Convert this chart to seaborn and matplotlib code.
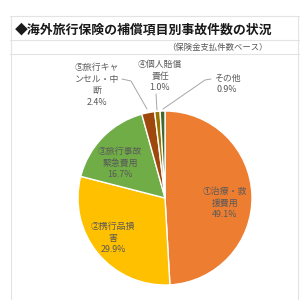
import matplotlib
matplotlib.use("Agg")
import matplotlib.pyplot as plt
import seaborn as sns
import numpy as np
from matplotlib.lines import Line2D

sns.set_theme(style="white")
plt.rcParams['font.family'] = ['Noto Sans CJK JP', 'DejaVu Sans']

# ---- data ----
categories = ["①治療・救\n援費用", "②携行品損\n害", "③旅行事故\n緊急費用",
              "⑤旅行キャ\nンセル・中\n断", "④個人賠償\n責任", "その他"]
values = [49.1, 29.9, 16.7, 2.4, 1.0, 0.9]
colors = ["#ED7D31", "#FFC000", "#70AD47", "#9E480E", "#997300", "#43682B"]
title = "◆海外旅行保険の補償項目別事故件数の状況"
subtitle = "（保険金支払件数ベース）"

fig = plt.figure(figsize=(3, 3), dpi=100)
fig.patch.set_facecolor("white")

# spreadsheet-like frame lines (figure pixel coords, top-down)
def hline(y, x0=10, x1=300):
    fig.add_artist(Line2D([x0/300, x1/300], [1 - y/300, 1 - y/300], color="#E3E3E3", lw=0.8))
def vline(x, y0=16, y1=300):
    fig.add_artist(Line2D([x/300, x/300], [1 - y0/300, 1 - y1/300], color="#E3E3E3", lw=0.8))
hline(16); hline(40); hline(54)
vline(11); vline(298)

fig.text(15/300, 1 - 29/300, title, fontsize=9.3, color="#1a1a1a", va="center", ha="left", weight="bold")
fig.text(268/300, 1 - 47/300, subtitle, fontsize=6, color="#555555", va="center", ha="right")

ax = fig.add_axes([78/300, 15/300, 174/300, 174/300])
wedges, _ = ax.pie(values, colors=colors, startangle=90, counterclock=False,
                   wedgeprops=dict(edgecolor="white", linewidth=1.0))
ax.set_xlim(-1, 1); ax.set_ylim(-1, 1)
ax.set_aspect("equal")
ax.axis("off")

txt_color = "#595959"
def px2d(px, py):
    return ((px - 165) / 87, (198 - py) / 87)

label_pos = [(225, 203), (113, 238), (120, 163), (97, 85), (160, 76), (227, 84)]
for cat, val, (px, py) in zip(categories, values, label_pos):
    x, y = px2d(px, py)
    ax.text(x, y, f"{cat}\n{val:.1f}%", ha="center", va="center", fontsize=6.4,
            color=txt_color, linespacing=1.35, clip_on=False)

# leader lines
leaders = [
    [(122, 79), (131, 81), (147, 109)],
    [(156, 94), (157, 110)],
    [(211, 79), (205, 80), (163, 109)],
]
for pts in leaders:
    d = [px2d(*p) for p in pts]
    ax.plot([p[0] for p in d], [p[1] for p in d], color="#A6A6A6", lw=0.7, clip_on=False)

fig.savefig("out.png", dpi=100, facecolor="white")
